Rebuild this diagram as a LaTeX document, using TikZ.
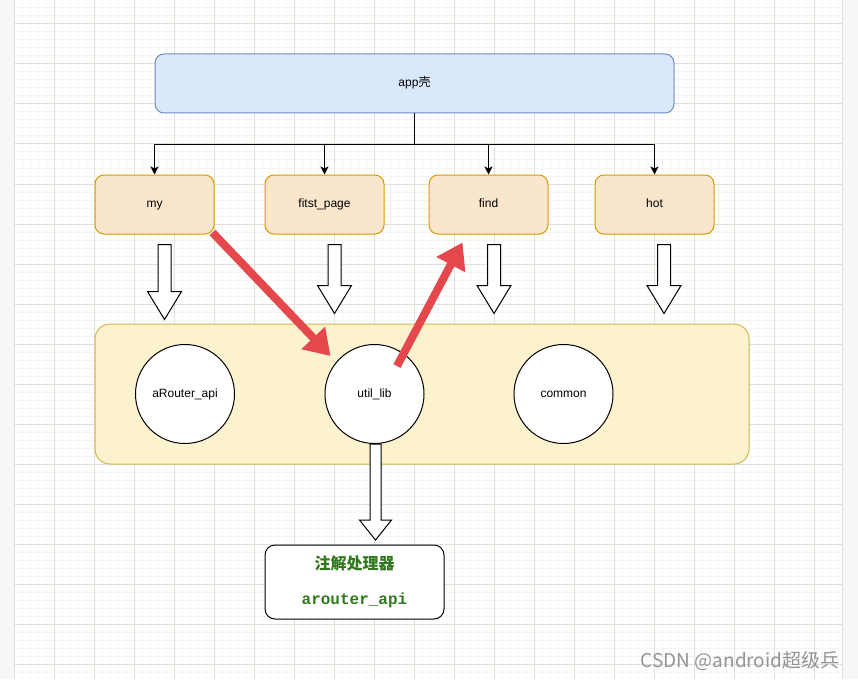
\documentclass[tikz,border=0pt]{standalone}
\usepackage{fontspec}
\setmainfont{Liberation Sans}
\setmonofont{Liberation Mono}
\newfontfamily\cjk{Noto Sans CJK SC}
\usetikzlibrary{
  arrows.meta,calc,positioning
}
\definecolor{GridMinor}{RGB}{245,245,239}
\definecolor{GridMajor}{RGB}{224,224,215}
\definecolor{PageSide}{RGB}{246,247,249}
\definecolor{ShellFill}{RGB}{218,232,252}
\definecolor{ShellLine}{RGB}{108,142,191}
\definecolor{ModFill}{RGB}{250,230,205}
\definecolor{ModLine}{RGB}{215,155,0}
\definecolor{BaseFill}{RGB}{253,242,206}
\definecolor{BaseLine}{RGB}{214,182,86}
\definecolor{HintRed}{RGB}{228,72,76}
\definecolor{ProcGreen}{RGB}{50,120,30}

\begin{document}
\begin{tikzpicture}[x=1pt,y=-1pt,
    label12/.style={font=\fontsize{12}{14}\selectfont,text height=8.5pt,text depth=2.5pt},
    shell/.style={label12,draw=ShellLine,fill=ShellFill,line width=1pt,rounded corners=9pt,
      minimum width=519pt,minimum height=59pt},
    module/.style={label12,draw=ModLine,fill=ModFill,line width=1pt,rounded corners=9pt,
      minimum width=119pt,minimum height=59pt},
    base/.style={draw=BaseLine,fill=BaseFill,line width=1pt,rounded corners=15pt,
      minimum width=654pt,minimum height=140pt},
    lib/.style={label12,circle,draw=black,fill=white,line width=1pt,minimum size=99pt,inner sep=0pt},
    proc/.style={draw=black,fill=white,line width=1pt,rounded corners=10pt,
      minimum width=179pt,minimum height=74pt,align=center,text=ProcGreen,
      font=\fontsize{16}{35}\selectfont},
    feed/.style={draw=black,line width=1pt,-{Stealth[length=8pt,width=8pt,inset=2pt]}},
    hollow/.style={draw=black,fill=white,line width=1pt,line join=miter},
    hint/.style={draw=HintRed,line width=8pt,-{Triangle[length=25pt,width=31pt]}},
    gridminor/.style={draw=GridMinor,line width=1pt},
    gridmajor/.style={draw=GridMajor,line width=1pt}
  ]
  \useasboundingbox (0,0) rectangle (858,679);

  % page and grid
  \fill[white] (14,0) rectangle (842,679);
  \fill[PageSide] (0,0) rectangle (14,679);
  \fill[PageSide] (842,0) rectangle (858,679);
  \foreach \x in {14,22,...,838}{
    \draw[gridminor] (\x,0) -- (\x,679);
  }
  \foreach \y in {0,8,...,672}{
    \draw[gridminor] (14,\y) -- (842,\y);
  }
  \foreach \x in {14,54,...,814}{
    \draw[gridmajor] (\x,0) -- (\x,679);
  }
  \foreach \y in {24,64,...,664}{
    \draw[gridmajor] (14,\y) -- (842,\y);
  }
  \draw[draw=GridMajor,line width=1pt] (842.5,0) -- (842.5,679);

  % shell and modules
  \node[shell] (app) at (414.5,83.5) {app{\cjk 壳}};
  \node[module] (my)    at (154.5,204.5) {my};
  \node[module] (fitst) at (324.5,204.5) {fitst\_page};
  \node[module] (find)  at (488.5,204.5) {find};
  \node[module] (hot)   at (654.5,204.5) {hot};

  \draw[line width=1pt] (app.south) -- ++(0,31) coordinate (fork);
  \draw[line width=1pt] (fork -| my.north) -- (fork -| hot.north);
  \foreach \m in {my,fitst,find,hot}{
    \draw[feed] (fork -| \m.north) -- (\m.north);
  }

  % base libraries
  \node[base] (base) at (422,394) {};
  \node[lib] (arouter) at (185,394)   {aRouter\_api};
  \node[lib] (util)    at (374.5,394) {util\_lib};
  \node[lib] (common)  at (563.5,394) {common};

  \node[proc] (proc) at (354.5,582) {{\cjk\bfseries 注解处理器}\\{\ttfamily\bfseries arouter\_api}};

  % hollow arrows down
  \foreach \m/\dx/\n/\t in {my/10/57/85,fitst/10/51/79,find/5.5/51/79,hot/9.5/51/79}{
    \draw[hollow] ([shift={(\dx-6.5,10)}]\m.south) -- ([shift={(\dx-6.5,\n)}]\m.south)
      -- ([shift={(\dx-17,\n)}]\m.south) -- ([shift={(\dx,\t)}]\m.south)
      -- ([shift={(\dx+17,\n)}]\m.south) -- ([shift={(\dx+6.5,\n)}]\m.south)
      -- ([shift={(\dx+6.5,10)}]\m.south) -- cycle;
  }
  \draw[hollow] ([shift={(-4.5,0)}]util.south) -- ([shift={(-4.5,76)}]util.south)
    -- ([shift={(-15,76)}]util.south) -- ([shift={(1,96)}]util.south)
    -- ([shift={(17,76)}]util.south) -- ([shift={(6.5,76)}]util.south)
    -- ([shift={(6.5,0)}]util.south) -- cycle;

  % red hints
  \draw[hint] ([shift={(-2,-2)}]my.south east) -- ([shift={(-44,-38)}]util.center);
  \draw[hint] ([shift={(22.5,-28)}]util.center) -- ([shift={(-26,8)}]find.south);

  \node[anchor=east,text=black!42,font=\fontsize{19}{22}\selectfont] (mark) at (843,661)
    {\cjk CSDN @android超级兵};
\end{tikzpicture}
\end{document}
